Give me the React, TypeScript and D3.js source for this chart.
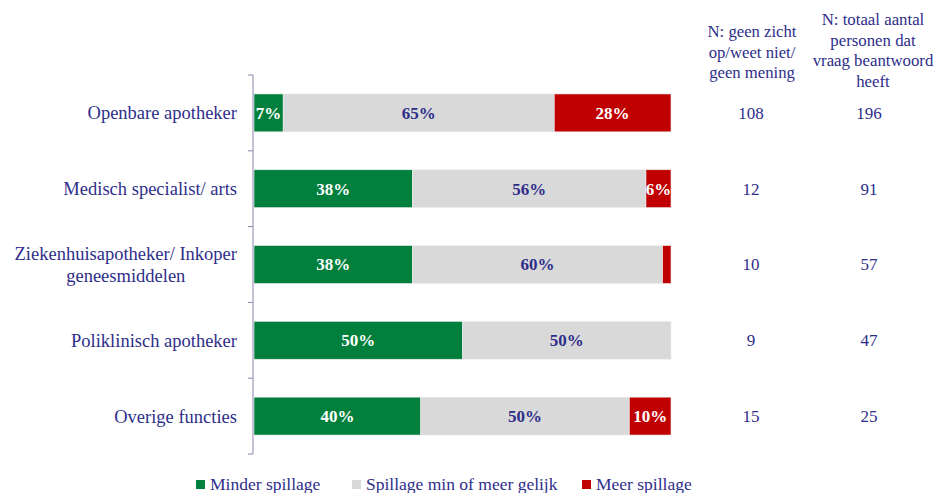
import React from "react";
import * as d3 from "d3";

const categories = [
  ["Openbare apotheker"],
  ["Medisch specialist/ arts"],
  ["Ziekenhuisapotheker/ Inkoper", "geneesmiddelen"],
  ["Poliklinisch apotheker"],
  ["Overige functies"],
];
const minder = [7, 38, 38, 50, 40];
const gelijk = [65, 56, 60, 50, 50];
const meer = [28, 6, 2, 0, 10];
const nGeenZicht = [108, 12, 10, 9, 15];
const nTotaal = [196, 91, 57, 47, 25];
const seriesNames = ["Minder spillage", "Spillage min of meer gelijk", "Meer spillage"];
const colors = ["#00803C", "#D9D9D9", "#C00000"];
const labelColors = ["#FFFFFF", "#2E2E8A", "#FFFFFF"];
const header1 = ["N: geen zicht", "op/weet niet/", "geen mening"];
const header2 = ["N: totaal aantal", "personen dat", "vraag beantwoord", "heeft"];

const W = 937;
const H = 493;
const TEXT = "#2E2E8A";
const FONT = "Liberation Serif, DejaVu Serif, Times New Roman, serif";
const CAT_SIZE = 18.5;

let ctx: CanvasRenderingContext2D | null = null;
function measure(t: string, size: number) {
  if (!ctx) ctx = document.createElement("canvas").getContext("2d");
  if (!ctx) return t.length * size * 0.45;
  ctx.font = `${size}px "Liberation Serif", "DejaVu Serif", serif`;
  return ctx.measureText(t).width;
}

export default function App() {
  const idx = categories.map((_, i) => i);
  const y = d3.scaleBand<number>().domain(idx).range([75, 454]).paddingInner(0.5).paddingOuter(0.25);
  const x = d3.scaleLinear().domain([0, 100]).range([254, 671]);
  const series = [minder, gelijk, meer];
  const stacked = idx.map((i) => {
    let acc = 0;
    return series.map((s, k) => {
      const x0 = acc;
      acc += s[i];
      return { k, x0, x1: acc, v: s[i] };
    });
  });
  const step = y.step();
  const tickYs = d3.range(categories.length + 1).map((i) => 75 + i * step);
  const legendX = [196, 352, 582];
  const labelRight = 237;

  return (
    <svg width={W} height={H} style={{ position: "absolute", left: 0, top: 0, fontFamily: FONT }}>
      {stacked.map((row, i) => {
        const lines = categories[i];
        const maxW = Math.max(...lines.map((l) => measure(l, CAT_SIZE)));
        const cx = labelRight - maxW / 2;
        return (
          <g key={i}>
            {row.map((seg) =>
              seg.v > 0 ? (
                <g key={seg.k}>
                  <rect
                    x={x(seg.x0)}
                    y={y(i)}
                    width={x(seg.x1) - x(seg.x0)}
                    height={y.bandwidth()}
                    fill={colors[seg.k]}
                    stroke="#EEEEEE"
                    strokeWidth={0.6}
                  />
                  {seg.v >= 5 && (
                    <text
                      x={(x(seg.x0) + x(seg.x1)) / 2}
                      y={y(i)! + y.bandwidth() / 2}
                      dy="0.35em"
                      textAnchor="middle"
                      fontWeight="bold"
                      fontSize={17}
                      fill={labelColors[seg.k]}
                      style={{ fontFamily: FONT }}
                    >
                      {seg.v}%
                    </text>
                  )}
                </g>
              ) : null
            )}
            <text
              x={lines.length > 1 ? cx : labelRight}
              y={y(i)! + y.bandwidth() / 2}
              textAnchor={lines.length > 1 ? "middle" : "end"}
              fontSize={CAT_SIZE}
              fill={TEXT}
              style={{ fontFamily: FONT }}
            >
              {lines.map((line, li) => (
                <tspan
                  key={li}
                  x={lines.length > 1 ? cx : labelRight}
                  dy={li === 0 ? `${0.35 - (lines.length - 1) * 0.58}em` : "1.16em"}
                >
                  {line}
                </tspan>
              ))}
            </text>
            <text x={751} y={y(i)! + y.bandwidth() / 2} dy="0.35em" textAnchor="middle" fontSize={17} fill={TEXT} style={{ fontFamily: FONT }}>
              {nGeenZicht[i]}
            </text>
            <text x={869} y={y(i)! + y.bandwidth() / 2} dy="0.35em" textAnchor="middle" fontSize={17} fill={TEXT} style={{ fontFamily: FONT }}>
              {nTotaal[i]}
            </text>
          </g>
        );
      })}
      <line x1={253} x2={253} y1={75} y2={454} stroke="#8B87A8" strokeWidth={1} />
      {tickYs.map((t, i) => (
        <line key={i} x1={248} x2={253} y1={t} y2={t} stroke="#8B87A8" strokeWidth={1} />
      ))}
      {header1.map((l, i) => (
        <text key={i} x={752} y={37 + i * 20.5} textAnchor="middle" fontSize={16.7} fill={TEXT} style={{ fontFamily: FONT }}>
          {l}
        </text>
      ))}
      {header2.map((l, i) => (
        <text key={i} x={873} y={25 + i * 20.5} textAnchor="middle" fontSize={16.8} fill={TEXT} style={{ fontFamily: FONT }}>
          {l}
        </text>
      ))}
      {seriesNames.map((n, k) => (
        <g key={k}>
          <rect x={legendX[k]} y={480} width={9} height={9} fill={colors[k]} />
          <text x={legendX[k] + 14} y={490} fontSize={17.5} fill={TEXT} style={{ fontFamily: FONT }}>
            {n}
          </text>
        </g>
      ))}
    </svg>
  );
}
